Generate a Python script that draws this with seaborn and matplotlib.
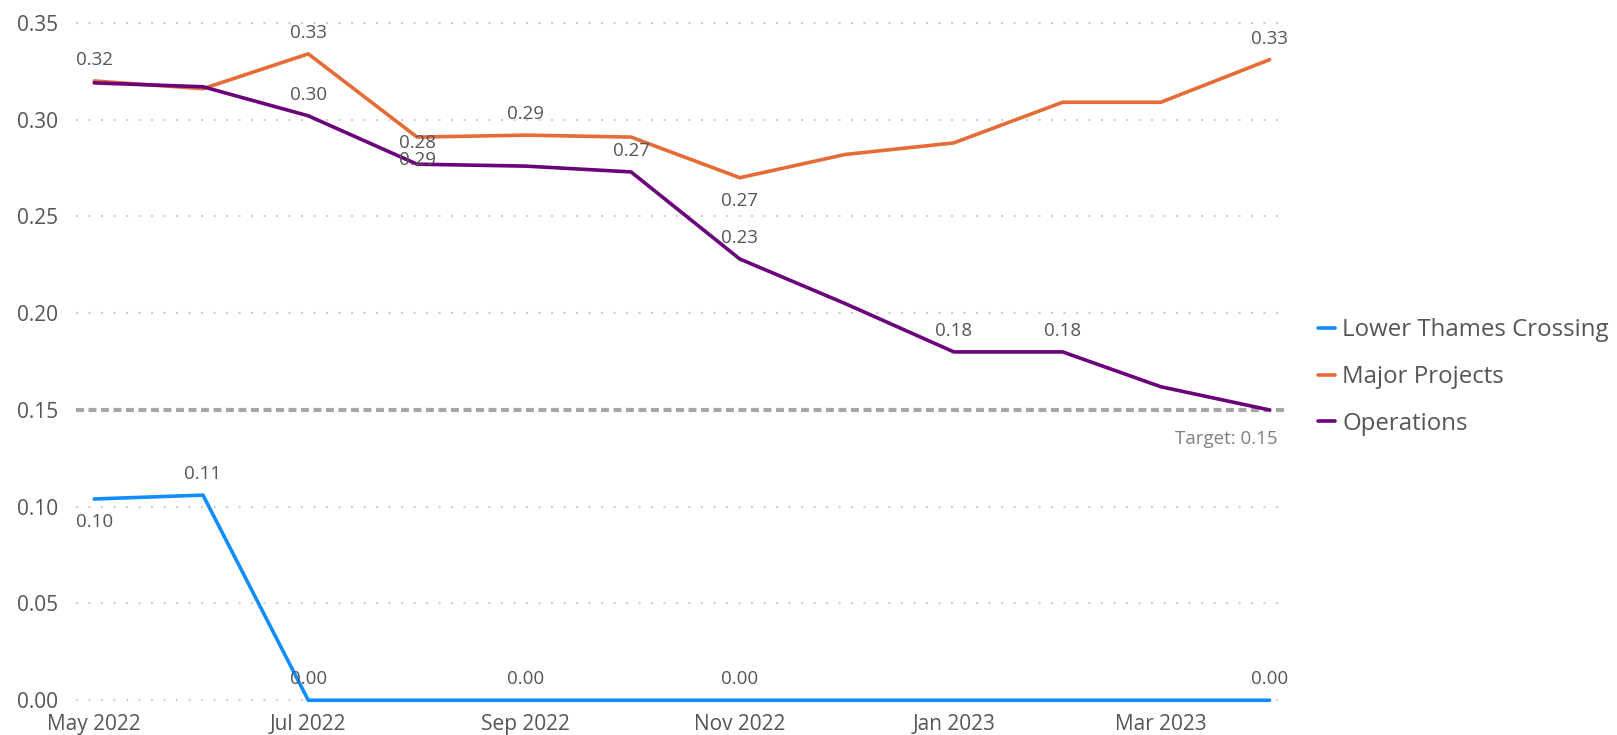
import pandas as pd
import seaborn as sns
import matplotlib.pyplot as plt
import matplotlib.dates as mdates
import matplotlib.transforms as mtrans
from matplotlib.ticker import FormatStrFormatter

# ── data ──
months = pd.date_range("2022-05-01", "2023-04-01", freq="MS")
lower_thames = [0.104, 0.106, 0.0, 0.0, 0.0, 0.0, 0.0, 0.0, 0.0, 0.0, 0.0, 0.0]
major_projects = [0.320, 0.316, 0.334, 0.291, 0.292, 0.291, 0.270, 0.282, 0.288, 0.309, 0.309, 0.331]
operations = [0.319, 0.317, 0.302, 0.277, 0.276, 0.273, 0.228, 0.205, 0.180, 0.180, 0.162, 0.150]
target = 0.15

series = {
    "Lower Thames Crossing": lower_thames,
    "Major Projects": major_projects,
    "Operations": operations,
}
colors = {
    "Lower Thames Crossing": "#118DFF",
    "Major Projects": "#E66C37",
    "Operations": "#6B007B",
}

# which points carry a data label (series, month index, above/below)
labels = [
    ("Major Projects", 0, "above"), ("Major Projects", 2, "above"),
    ("Major Projects", 4, "above"), ("Major Projects", 6, "below"),
    ("Major Projects", 11, "above"),
    ("Operations", 2, "above"), ("Operations", 3, "above"),
    ("Major Projects", 3, "below"),
    ("Operations", 5, "above"), ("Operations", 6, "above"),
    ("Operations", 8, "above"), ("Operations", 9, "above"),
    ("Lower Thames Crossing", 0, "below"), ("Lower Thames Crossing", 1, "above"),
    ("Lower Thames Crossing", 2, "above"), ("Lower Thames Crossing", 4, "above"),
    ("Lower Thames Crossing", 6, "above"), ("Lower Thames Crossing", 11, "above"),
]

df = pd.DataFrame(
    [(m, name, v) for name, vals in series.items() for m, v in zip(months, vals)],
    columns=["month", "group", "value"],
)

sns.set_style("white")
plt.rcParams["font.family"] = ["Open Sans", "DejaVu Sans"]

fig = plt.figure(figsize=(16.17, 7.35), dpi=100)
ax = fig.add_axes([0.047, 0.042, 0.749, 0.940])

# gridlines + target first so lines sit on top
for y in [0.0, 0.05, 0.10, 0.20, 0.25, 0.30, 0.35]:
    ax.axhline(y, color="#CFCFCF", lw=1.5, linestyle=(0, (1, 5)), zorder=0)
ax.axhline(target, color="#A6A6A6", lw=3, linestyle=(0, (1.9, 1.1)), zorder=1)

sns.lineplot(
    data=df, x="month", y="value", hue="group",
    palette=colors, linewidth=2.6, ax=ax, zorder=3,
)

for name, i, pos in labels:
    v = series[name][i]
    ax.annotate(
        f"{v:.2f}", (months[i], v),
        textcoords="offset pixels", xytext=(0, 21 if pos == "above" else -23),
        ha="center", va="center", fontsize=13.5, color="#555555", zorder=4,
    )

trans = mtrans.blended_transform_factory(ax.transAxes, ax.transData)
ax.annotate(
    f"Target: {target:.2f}", (0.992, target), xycoords=trans,
    textcoords="offset pixels", xytext=(0, -29),
    ha="right", va="center", fontsize=13.5, color="#808080",
)

ax.set_xlim(months[0] - pd.Timedelta(days=5.2), months[-1] + pd.Timedelta(days=5))
ax.set_ylim(-0.002, 0.355)
ax.set_yticks([0.0, 0.05, 0.10, 0.15, 0.20, 0.25, 0.30, 0.35])
ax.yaxis.set_major_formatter(FormatStrFormatter("%.2f"))
ax.xaxis.set_major_locator(mdates.MonthLocator(bymonth=[1, 3, 5, 7, 9, 11]))
ax.xaxis.set_major_formatter(mdates.DateFormatter("%b %Y"))
ax.tick_params(axis="both", length=0, labelsize=15, colors="#555555")
ax.tick_params(axis="x", pad=7)
ax.tick_params(axis="y", pad=13)
ax.set_xlabel("")
ax.set_ylabel("")
sns.despine(ax=ax, left=True, bottom=True)

ax.legend(
    loc="center left", bbox_to_anchor=(0.802, 0.487), bbox_transform=fig.transFigure,
    frameon=False, fontsize=17.3, handlelength=0.7, handletextpad=0.3,
    labelspacing=0.95, labelcolor="#555555",
)

plt.savefig("out.png", dpi=100)
